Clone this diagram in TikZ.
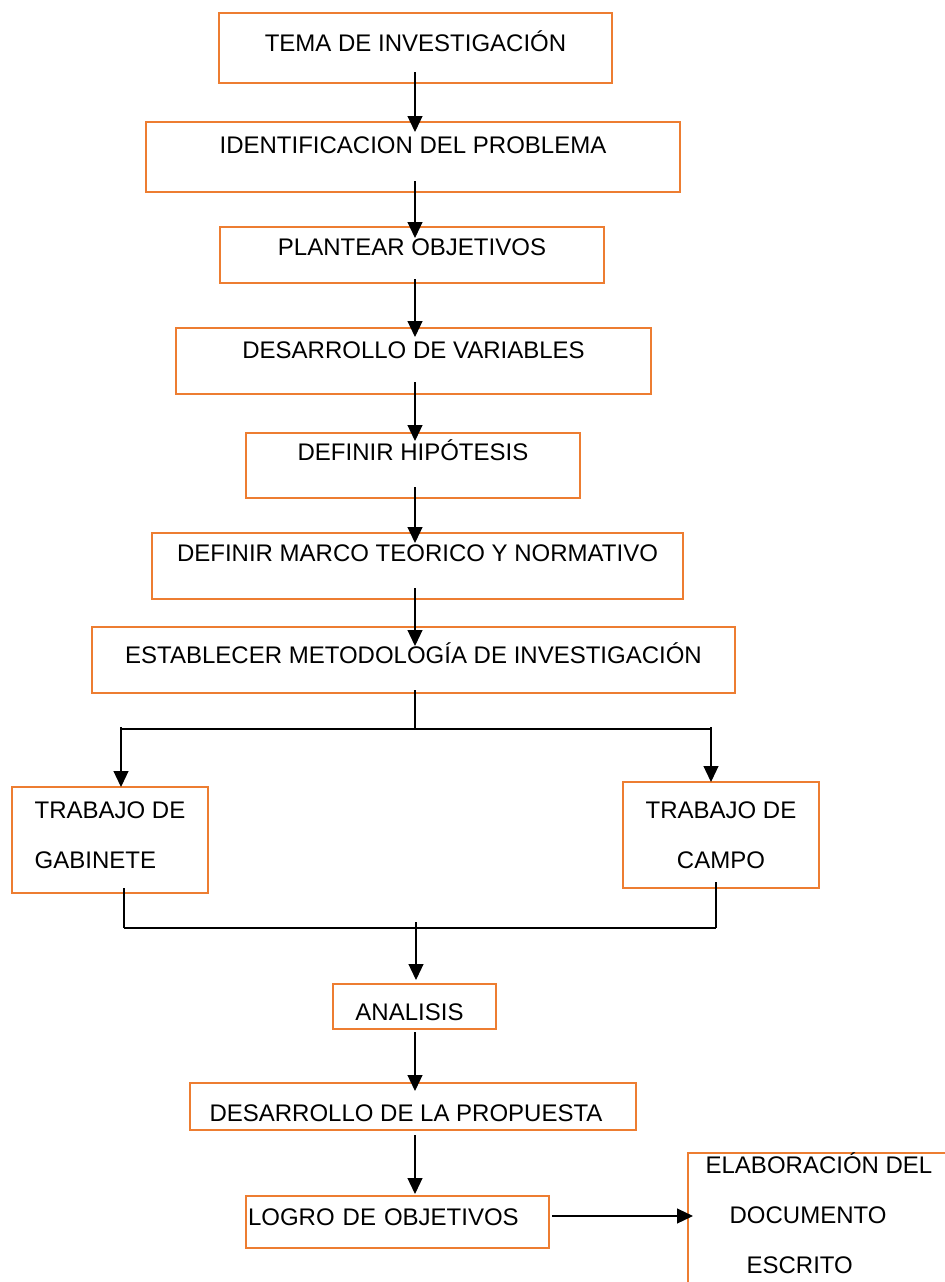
\documentclass[tikz,border=0pt]{standalone}
\usepackage{fontspec}
\setmainfont{Liberation Sans}
\usetikzlibrary{arrows.meta,calc}
\definecolor{naranja}{HTML}{ED7D31}
\begin{document}
\begin{tikzpicture}[x=0.5pt,y=-0.5pt,
	caja/.style={draw=naranja,line width=1.1pt,anchor=north west,inner xsep=2pt,inner ysep=0pt,outer sep=0pt,font=\fontsize{12pt}{25pt}\selectfont},
	flecha/.style={-{Triangle[length=8pt,width=7.5pt]},line width=0.6pt},
	linea/.style={line width=0.6pt}]
				\path[use as bounding box,clip] (0,0) rectangle (945,1282);
				\coordinate (eje) at (415,0);
				\node[caja,minimum width=196.5pt,text height=19.3pt,text depth=15.7pt] (tema) at (219,13) {TEMA DE INVESTIGACIÓN};
				\node[caja,minimum width=267pt,text height=15.8pt,text depth=19.2pt] (ident) at (146,122) {IDENTIFICACION DEL PROBLEMA};
				\node[caja,minimum width=192pt,text height=14.3pt,text depth=13.7pt] (plan) at (220,227) {PLANTEAR OBJETIVOS};
				\node[caja,minimum width=237.5pt,text height=15.3pt,text depth=17.7pt] (desvar) at (176,328) {DESARROLLO DE VARIABLES};
				\node[caja,minimum width=167pt,text height=13.8pt,text depth=18.7pt] (hip) at (246,433) {DEFINIR HIPÓTESIS};
				\node[caja,minimum width=265.5pt,text height=14.3pt,text depth=18.7pt] (marco) at (152,533) {DEFINIR MARCO TEORICO Y NORMATIVO};
				\node[caja,minimum width=321.5pt,text height=18.3pt,text depth=14.7pt] (estab) at (92,627) {ESTABLECER METODOLOGÍA DE INVESTIGACIÓN};
				\node[caja,minimum width=98pt,text height=40.8pt,text depth=12.2pt,align=left] (gab) at (12,787) {TRABAJO DE\\GABINETE};
				\node[caja,minimum width=98pt,text height=43.3pt,text depth=9.7pt,align=center] (campo) at (623,782) {TRABAJO DE\\CAMPO};
				\node[caja,minimum width=81.5pt,text height=18.3pt,text depth=4.2pt] (anal) at (333,984) {ANALISIS\hspace*{5pt}};
				\node[caja,minimum width=223pt,text height=19.3pt,text depth=4.2pt] (prop) at (190,1083) {DESARROLLO DE LA PROPUESTA\hspace*{7pt}};
				\node[caja,inner xsep=1pt,text width=149.5pt,text height=14.8pt,text depth=11.2pt,align=left] (logro) at (246,1196) {LOGRO DE OBJETIVOS};
				\node[caja,minimum width=131pt,text height=60.3pt,text depth=15pt,align=left] (elab) at (688,1153) {ELABORACIÓN DEL\\\hspace*{12pt}DOCUMENTO\\\hspace*{20.5pt}ESCRITO};
				\foreach \a/\b/\s/\e in {tema/ident/-11/10,ident/plan/-11/11,plan/desvar/-4/9,desvar/hip/-12/8,hip/marco/-11/10,marco/estab/-11/19,anal/prop/3/8,prop/logro/5/-2}
				\draw[flecha] ($(\a.south -| eje)+(0,\s)$) -- ($(\b.north -| eje)+(0,\e)$);
				\coordinate (bifc) at (415,729);
				\coordinate (bifi) at (121,729);
				\coordinate (bifd) at (711,729);
				\draw[linea] ($(estab.south -| bifc)+(0,-3)$) -- (bifc);
				\draw[linea] (bifi) -- (bifd);
				\draw[flecha] (bifi) ++(0,-2) -- (gab.north -| bifi);
				\draw[flecha] (bifd) ++(0,-2) -- (campo.north -| bifd);
				\coordinate (unei) at (124,928);
				\coordinate (uned) at (716,928);
				\coordinate (unec) at (416,922);
				\draw[linea] (unei |- gab.south) ++(0,-5) -- (unei);
				\draw[linea] (uned |- campo.south) ++(0,-6) -- (uned);
				\draw[linea] (unei) -- (uned);
				\draw[flecha] (unec) -- ($(anal.north -| unec)+(0,-4)$);
				\draw[flecha] ($(logro.east)+(3,-6)$) -- ($(elab.west |- logro.east)+(5,-6)$);
\end{tikzpicture}
\end{document}
